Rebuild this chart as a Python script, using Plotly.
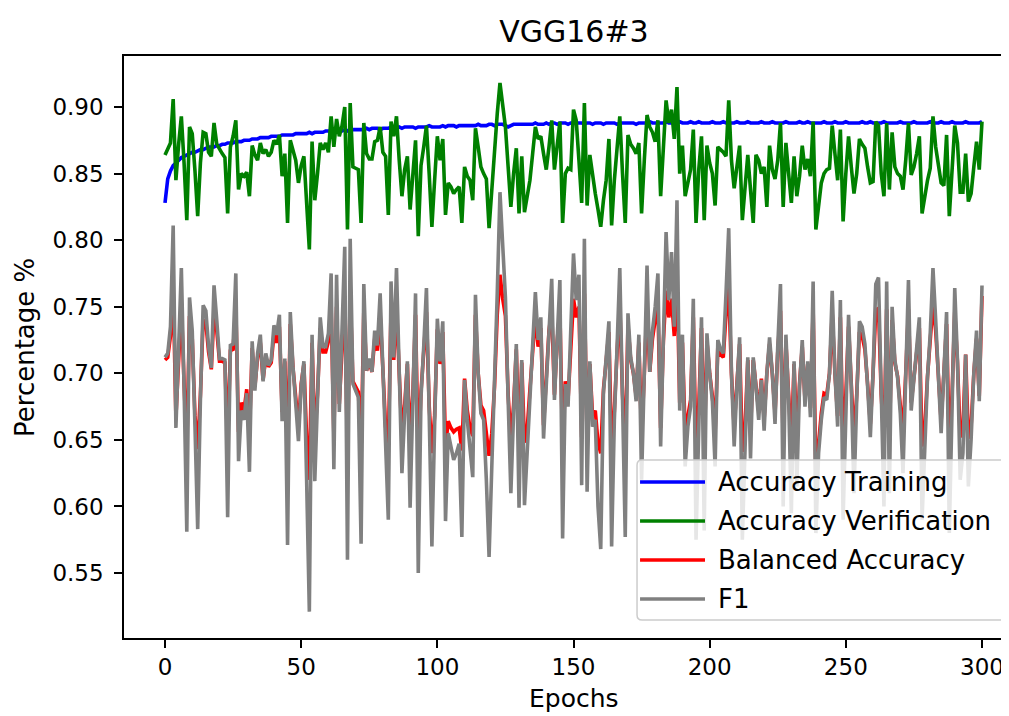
import plotly.graph_objects as go

epochs = list(range(301))

acc_training = [
    0.828, 0.846, 0.852, 0.856, 0.858, 0.860, 0.862, 0.863, 0.864, 0.865,
    0.866, 0.866, 0.867, 0.868, 0.868, 0.869, 0.870, 0.870, 0.870, 0.871,
    0.871, 0.872, 0.872, 0.873, 0.873, 0.873, 0.874, 0.874, 0.874, 0.875,
    0.875, 0.875, 0.876, 0.876, 0.876, 0.877, 0.877, 0.877, 0.877, 0.878,
    0.878, 0.878, 0.878, 0.879, 0.879, 0.879, 0.879, 0.879, 0.880, 0.880,
    0.880, 0.880, 0.880, 0.881, 0.880, 0.881, 0.881, 0.881, 0.881, 0.882,
    0.882, 0.881, 0.882, 0.882, 0.882, 0.882, 0.883, 0.882, 0.883, 0.883,
    0.883, 0.883, 0.883, 0.883, 0.884, 0.883, 0.884, 0.884, 0.884, 0.883,
    0.884, 0.884, 0.884, 0.885, 0.884, 0.884, 0.885, 0.884, 0.885, 0.885,
    0.885, 0.885, 0.884, 0.885, 0.885, 0.885, 0.885, 0.886, 0.885, 0.885,
    0.885, 0.885, 0.886, 0.885, 0.886, 0.886, 0.886, 0.885, 0.886, 0.886,
    0.886, 0.886, 0.886, 0.886, 0.886, 0.887, 0.886, 0.886, 0.886, 0.887,
    0.887, 0.886, 0.887, 0.887, 0.887, 0.886, 0.885, 0.886, 0.887, 0.887,
    0.887, 0.887, 0.887, 0.887, 0.887, 0.887, 0.888, 0.887, 0.887, 0.887,
    0.888, 0.887, 0.888, 0.888, 0.887, 0.888, 0.888, 0.888, 0.887, 0.888,
    0.888, 0.888, 0.888, 0.888, 0.887, 0.888, 0.888, 0.887, 0.888, 0.888,
    0.888, 0.887, 0.888, 0.888, 0.888, 0.888, 0.887, 0.888, 0.888, 0.888,
    0.888, 0.888, 0.888, 0.887, 0.888, 0.888, 0.888, 0.888, 0.889, 0.888,
    0.888, 0.888, 0.888, 0.888, 0.889, 0.888, 0.888, 0.888, 0.888, 0.889,
    0.888, 0.888, 0.888, 0.889, 0.888, 0.888, 0.889, 0.888, 0.888, 0.888,
    0.888, 0.889, 0.888, 0.888, 0.888, 0.889, 0.888, 0.888, 0.888, 0.888,
    0.889, 0.888, 0.888, 0.888, 0.889, 0.888, 0.888, 0.888, 0.888, 0.889,
    0.888, 0.888, 0.888, 0.889, 0.888, 0.888, 0.888, 0.888, 0.889, 0.888,
    0.888, 0.888, 0.888, 0.889, 0.888, 0.888, 0.889, 0.888, 0.888, 0.888,
    0.888, 0.888, 0.889, 0.888, 0.888, 0.888, 0.889, 0.888, 0.888, 0.888,
    0.889, 0.888, 0.888, 0.888, 0.888, 0.888, 0.889, 0.888, 0.888, 0.889,
    0.888, 0.888, 0.888, 0.888, 0.889, 0.888, 0.888, 0.888, 0.888, 0.888,
    0.889, 0.888, 0.888, 0.888, 0.888, 0.889, 0.888, 0.888, 0.888, 0.888,
    0.888, 0.889, 0.888, 0.888, 0.888, 0.889, 0.888, 0.888, 0.888, 0.889,
    0.888, 0.888, 0.888, 0.888, 0.889, 0.888, 0.888, 0.888, 0.888, 0.888,
    0.889,
]

acc_verification = [
    0.864, 0.868, 0.873, 0.906, 0.845, 0.872, 0.893, 0.858, 0.815, 0.885,
    0.880, 0.852, 0.818, 0.858, 0.881, 0.880, 0.866, 0.863, 0.888, 0.872,
    0.868, 0.865, 0.862, 0.820, 0.870, 0.878, 0.890, 0.838, 0.850, 0.848,
    0.851, 0.833, 0.871, 0.864, 0.860, 0.873, 0.865, 0.868, 0.863, 0.866,
    0.875, 0.872, 0.879, 0.848, 0.865, 0.813, 0.875, 0.868, 0.860, 0.843,
    0.856, 0.863, 0.830, 0.793, 0.874, 0.830, 0.850, 0.873, 0.868, 0.873,
    0.866, 0.893, 0.870, 0.891, 0.878, 0.886, 0.900, 0.808, 0.903, 0.855,
    0.854, 0.853, 0.813, 0.888, 0.865, 0.861, 0.861, 0.874, 0.875, 0.885,
    0.866, 0.863, 0.819, 0.889, 0.878, 0.893, 0.860, 0.833, 0.853, 0.863,
    0.823, 0.850, 0.875, 0.803, 0.856, 0.870, 0.886, 0.850, 0.810, 0.845,
    0.878, 0.860, 0.876, 0.819, 0.843, 0.840, 0.835, 0.838, 0.840, 0.813,
    0.855, 0.848, 0.845, 0.830, 0.884, 0.870, 0.855, 0.850, 0.846, 0.809,
    0.840, 0.870, 0.895, 0.918, 0.900, 0.885, 0.855, 0.825, 0.850, 0.869,
    0.820, 0.863, 0.821, 0.835, 0.845, 0.865, 0.885, 0.876, 0.878, 0.865,
    0.853, 0.870, 0.890, 0.853, 0.870, 0.889, 0.813, 0.850, 0.854, 0.853,
    0.898, 0.890, 0.860, 0.828, 0.903, 0.826, 0.864, 0.848, 0.835, 0.823,
    0.810, 0.830, 0.845, 0.876, 0.811, 0.845, 0.870, 0.893, 0.850, 0.813,
    0.879, 0.872, 0.869, 0.865, 0.873, 0.820, 0.860, 0.894, 0.885, 0.881,
    0.874, 0.890, 0.833, 0.870, 0.905, 0.888, 0.898, 0.876, 0.915, 0.850,
    0.871, 0.833, 0.845, 0.853, 0.883, 0.813, 0.853, 0.878, 0.815, 0.871,
    0.858, 0.850, 0.826, 0.870, 0.868, 0.866, 0.863, 0.905, 0.860, 0.839,
    0.855, 0.871, 0.815, 0.840, 0.864, 0.838, 0.813, 0.864, 0.860, 0.850,
    0.855, 0.825, 0.871, 0.853, 0.846, 0.860, 0.888, 0.825, 0.873, 0.850,
    0.828, 0.863, 0.833, 0.848, 0.871, 0.853, 0.861, 0.848, 0.889, 0.808,
    0.825, 0.843, 0.850, 0.853, 0.854, 0.886, 0.865, 0.845, 0.883, 0.814,
    0.850, 0.878, 0.855, 0.835, 0.850, 0.876, 0.872, 0.869, 0.855, 0.843,
    0.844, 0.889, 0.886, 0.850, 0.833, 0.888, 0.838, 0.881, 0.855, 0.850,
    0.848, 0.838, 0.860, 0.888, 0.849, 0.855, 0.865, 0.878, 0.820, 0.835,
    0.845, 0.854, 0.893, 0.870, 0.855, 0.843, 0.841, 0.879, 0.818, 0.850,
    0.886, 0.873, 0.836, 0.836, 0.865, 0.829, 0.835, 0.855, 0.874, 0.853,
    0.889,
]

balanced_accuracy = [
    0.710, 0.712, 0.728, 0.764, 0.667, 0.716, 0.752, 0.692, 0.643, 0.743,
    0.726, 0.668, 0.643, 0.684, 0.740, 0.738, 0.716, 0.703, 0.746, 0.732,
    0.709, 0.709, 0.708, 0.645, 0.717, 0.718, 0.750, 0.656, 0.678, 0.672,
    0.688, 0.654, 0.719, 0.690, 0.712, 0.723, 0.695, 0.712, 0.705, 0.708,
    0.729, 0.723, 0.735, 0.671, 0.709, 0.640, 0.737, 0.704, 0.684, 0.660,
    0.692, 0.707, 0.652, 0.620, 0.723, 0.652, 0.684, 0.734, 0.716, 0.716,
    0.724, 0.750, 0.654, 0.750, 0.677, 0.724, 0.758, 0.637, 0.760, 0.694,
    0.690, 0.686, 0.640, 0.747, 0.702, 0.709, 0.701, 0.726, 0.717, 0.744,
    0.703, 0.660, 0.645, 0.748, 0.710, 0.752, 0.700, 0.654, 0.676, 0.707,
    0.647, 0.684, 0.744, 0.635, 0.686, 0.716, 0.746, 0.676, 0.640, 0.668,
    0.733, 0.707, 0.731, 0.645, 0.664, 0.659, 0.656, 0.658, 0.659, 0.642,
    0.696, 0.672, 0.659, 0.653, 0.744, 0.700, 0.676, 0.672, 0.652, 0.638,
    0.655, 0.690, 0.744, 0.774, 0.756, 0.743, 0.684, 0.650, 0.676, 0.718,
    0.647, 0.708, 0.648, 0.658, 0.688, 0.716, 0.744, 0.720, 0.734, 0.661,
    0.696, 0.732, 0.748, 0.684, 0.724, 0.748, 0.641, 0.694, 0.680, 0.724,
    0.756, 0.742, 0.750, 0.652, 0.760, 0.650, 0.707, 0.668, 0.672, 0.648,
    0.640, 0.688, 0.708, 0.731, 0.640, 0.672, 0.716, 0.752, 0.684, 0.642,
    0.736, 0.710, 0.700, 0.683, 0.723, 0.652, 0.700, 0.752, 0.701, 0.726,
    0.740, 0.750, 0.659, 0.724, 0.762, 0.742, 0.756, 0.728, 0.772, 0.678,
    0.723, 0.655, 0.668, 0.680, 0.742, 0.641, 0.676, 0.734, 0.643, 0.724,
    0.700, 0.683, 0.655, 0.720, 0.714, 0.712, 0.744, 0.764, 0.700, 0.659,
    0.692, 0.722, 0.641, 0.660, 0.710, 0.656, 0.710, 0.692, 0.672, 0.696,
    0.666, 0.700, 0.722, 0.700, 0.670, 0.716, 0.747, 0.648, 0.723, 0.684,
    0.646, 0.707, 0.651, 0.692, 0.720, 0.680, 0.707, 0.674, 0.748, 0.625,
    0.650, 0.670, 0.685, 0.684, 0.700, 0.745, 0.700, 0.668, 0.742, 0.645,
    0.684, 0.735, 0.692, 0.650, 0.684, 0.731, 0.728, 0.718, 0.692, 0.662,
    0.700, 0.747, 0.749, 0.684, 0.648, 0.748, 0.650, 0.740, 0.708, 0.698,
    0.676, 0.654, 0.700, 0.748, 0.678, 0.697, 0.716, 0.734, 0.645, 0.660,
    0.698, 0.724, 0.752, 0.732, 0.702, 0.664, 0.700, 0.737, 0.643, 0.684,
    0.746, 0.708, 0.652, 0.658, 0.714, 0.651, 0.660, 0.700, 0.726, 0.683,
    0.758,
]

f1_score = [
    0.712, 0.715, 0.735, 0.811, 0.659, 0.720, 0.779, 0.690, 0.581, 0.757,
    0.732, 0.660, 0.583, 0.680, 0.751, 0.747, 0.720, 0.704, 0.766, 0.740,
    0.711, 0.711, 0.710, 0.592, 0.721, 0.722, 0.775, 0.634, 0.672, 0.665,
    0.685, 0.626, 0.724, 0.687, 0.715, 0.729, 0.694, 0.715, 0.706, 0.710,
    0.736, 0.729, 0.744, 0.664, 0.711, 0.571, 0.746, 0.705, 0.680, 0.649,
    0.690, 0.709, 0.620, 0.521, 0.729, 0.619, 0.680, 0.742, 0.720, 0.720,
    0.730, 0.775, 0.628, 0.774, 0.671, 0.730, 0.795, 0.560, 0.801, 0.692,
    0.687, 0.682, 0.572, 0.767, 0.702, 0.711, 0.701, 0.732, 0.721, 0.760,
    0.704, 0.650, 0.590, 0.769, 0.712, 0.779, 0.700, 0.625, 0.670, 0.709,
    0.599, 0.680, 0.760, 0.550, 0.682, 0.720, 0.764, 0.670, 0.570, 0.660,
    0.741, 0.709, 0.739, 0.589, 0.655, 0.645, 0.635, 0.640, 0.647, 0.577,
    0.695, 0.665, 0.645, 0.622, 0.759, 0.700, 0.670, 0.665, 0.620, 0.562,
    0.630, 0.687, 0.760, 0.836, 0.790, 0.757, 0.680, 0.610, 0.670, 0.722,
    0.599, 0.710, 0.601, 0.640, 0.685, 0.720, 0.761, 0.725, 0.742, 0.651,
    0.695, 0.740, 0.771, 0.680, 0.730, 0.770, 0.576, 0.692, 0.675, 0.730,
    0.790, 0.755, 0.774, 0.616, 0.801, 0.611, 0.709, 0.660, 0.665, 0.600,
    0.568, 0.685, 0.710, 0.739, 0.570, 0.665, 0.720, 0.779, 0.680, 0.577,
    0.745, 0.712, 0.700, 0.679, 0.729, 0.620, 0.700, 0.781, 0.701, 0.732,
    0.750, 0.775, 0.645, 0.730, 0.806, 0.755, 0.791, 0.735, 0.830, 0.672,
    0.729, 0.630, 0.660, 0.675, 0.756, 0.575, 0.670, 0.742, 0.582, 0.730,
    0.700, 0.679, 0.630, 0.725, 0.718, 0.715, 0.760, 0.809, 0.700, 0.645,
    0.690, 0.727, 0.575, 0.650, 0.712, 0.636, 0.712, 0.690, 0.665, 0.695,
    0.657, 0.700, 0.727, 0.700, 0.662, 0.720, 0.767, 0.600, 0.729, 0.680,
    0.595, 0.709, 0.615, 0.690, 0.725, 0.675, 0.709, 0.667, 0.769, 0.580,
    0.640, 0.665, 0.682, 0.680, 0.700, 0.762, 0.700, 0.660, 0.755, 0.590,
    0.680, 0.744, 0.690, 0.610, 0.680, 0.739, 0.735, 0.722, 0.690, 0.652,
    0.700, 0.767, 0.772, 0.680, 0.600, 0.769, 0.610, 0.750, 0.710, 0.697,
    0.670, 0.625, 0.700, 0.770, 0.672, 0.696, 0.720, 0.742, 0.590, 0.650,
    0.697, 0.730, 0.779, 0.740, 0.702, 0.655, 0.700, 0.746, 0.580, 0.680,
    0.764, 0.710, 0.620, 0.640, 0.714, 0.615, 0.650, 0.700, 0.732, 0.679,
    0.766,
]

series_names = ["Accuracy Training", "Accuracy Verification", "Balanced Accuracy", "F1"]
series_colors = ["#0000ff", "#008000", "#ff0000", "#808080"]
series_values = [acc_training, acc_verification, balanced_accuracy, f1_score]

x_ticks = [0, 50, 100, 150, 200, 250, 300]
y_ticks = [0.55, 0.60, 0.65, 0.70, 0.75, 0.80, 0.85, 0.90]

FONT = "DejaVu Sans, Liberation Sans, sans-serif"
TICK_SIZE = 23
LABEL_SIZE = 26
TITLE_SIZE = 30
LEGEND_SIZE = 26
LINE_W = 3.6

fig = go.Figure()
for name, color, vals in zip(series_names, series_colors, series_values):
    fig.add_trace(go.Scatter(
        x=epochs, y=vals, mode="lines", name=name,
        line=dict(color=color, width=LINE_W), showlegend=False,
    ))

# page has an 8px body margin; figure sized to fill the rest of the window
fig.update_layout(
    width=1001, height=708,
    margin=dict(l=116, r=0, t=48, b=78, autoexpand=False),
    paper_bgcolor="white", plot_bgcolor="white",
    font=dict(family=FONT, size=LABEL_SIZE, color="black"),
    title=dict(text="VGG16#3", x=0.5654, xref="container", xanchor="center",
               y=0.9675, yref="container", yanchor="middle",
               font=dict(size=TITLE_SIZE, color="black")),
    showlegend=False,
)

fig.update_xaxes(
    range=[-15.06, 309.92], tickvals=x_ticks, ticktext=[str(t) for t in x_ticks],
    showgrid=False, zeroline=False, showline=True, linecolor="black", linewidth=1.5,
    mirror=True, ticks="outside", ticklen=8, tickwidth=1.5, tickcolor="black",
    tickfont=dict(size=TICK_SIZE), automargin=False,
)
fig.update_yaxes(
    range=[0.5012, 0.9383], tickvals=y_ticks, ticktext=[f"{t:.2f}" for t in y_ticks],
    showgrid=False, zeroline=False, showline=True, linecolor="black", linewidth=1.5,
    ticks="outside", ticklen=8, tickwidth=1.5, tickcolor="black",
    tickfont=dict(size=TICK_SIZE), automargin=False, ticklabelstandoff=6,
)

# axis labels
fig.add_annotation(text="Epochs", xref="paper", yref="paper", x=0.509, y=-0.1045,
                   xanchor="center", yanchor="middle", showarrow=False,
                   font=dict(size=LABEL_SIZE - 1))
fig.add_annotation(text="Percentage %", xref="paper", yref="paper", x=-0.1119, y=0.5,
                   xanchor="center", yanchor="middle", textangle=-90, showarrow=False,
                   font=dict(size=LABEL_SIZE))

# legend box (matplotlib style), drawn in axes-fraction coordinates
bx0, bx1, by0, by1 = 0.5797, 0.9955, 0.0309, 0.3058
rx, ry = 5 / 885, 5 / 582
path = (f"M {bx0+rx},{by0} L {bx1-rx},{by0} Q {bx1},{by0} {bx1},{by0+ry} "
        f"L {bx1},{by1-ry} Q {bx1},{by1} {bx1-rx},{by1} L {bx0+rx},{by1} "
        f"Q {bx0},{by1} {bx0},{by1-ry} L {bx0},{by0+ry} Q {bx0},{by0} {bx0+rx},{by0} Z")
fig.add_shape(type="path", path=path, xref="paper", yref="paper",
              fillcolor="rgba(255,255,255,0.8)", line=dict(color="#cccccc", width=1.5),
              layer="above")
row_y = [0.2680, 0.2010, 0.1340, 0.0670]
for name, color, yy in zip(series_names, series_colors, row_y):
    fig.add_shape(type="line", xref="paper", yref="paper", x0=0.5831, x1=0.6565,
                  y0=yy, y1=yy, line=dict(color=color, width=LINE_W), layer="above")
    fig.add_annotation(text=name, xref="paper", yref="paper", x=0.6689, y=yy,
                       xanchor="left", yanchor="middle", showarrow=False,
                       font=dict(size=LEGEND_SIZE, color="black"))

fig.write_html("out.html")
